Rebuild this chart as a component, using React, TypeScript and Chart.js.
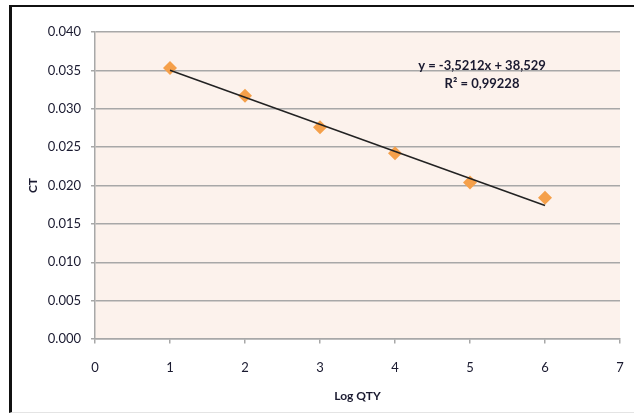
import { useEffect, useRef } from 'react';
import { Chart, registerables } from 'chart.js';

Chart.register(...registerables);

// ---- Data ----
const logQty = [1, 2, 3, 4, 5, 6];
const ctValues = [0.0353, 0.0317, 0.0276, 0.0242, 0.0204, 0.0184];
const trendSlope = -0.0035212;
const trendIntercept = 0.038529;
const trendXRange = [1, 6];
const xAxisRange = [0, 7];
const yAxisRange = [0, 0.04];
const yStep = 0.005;
const equationLabel = 'y = -3,5212x + 38,529';
const r2Label = 'R² = 0,99228';
const xTitle = 'Log QTY';
const yTitle = 'CT';

const FONT = 'Lato, "Liberation Sans", sans-serif';
const TEXT_COLOR = '#1a1a30';
const GRID_COLOR = '#a8a8a8';
const PLOT_BG = '#fcf2ec';

const bgPlugin = {
  id: 'plotBg',
  beforeDraw(chart: any) {
    const { ctx, chartArea } = chart;
    if (!chartArea) return;
    ctx.save();
    ctx.fillStyle = PLOT_BG;
    ctx.fillRect(chartArea.left, chartArea.top, chartArea.right - chartArea.left, chartArea.bottom - chartArea.top);
    ctx.restore();
  },
};

const eqPlugin = {
  id: 'equation',
  afterDatasetsDraw(chart: any) {
    const { ctx, scales } = chart;
    const x = scales.x.getPixelForValue(5.16);
    const y1 = scales.y.getPixelForValue(0.0356);
    const y2 = scales.y.getPixelForValue(0.0333);
    ctx.save();
    ctx.fillStyle = TEXT_COLOR;
    ctx.font = `bold 13px ${FONT}`;
    ctx.textAlign = 'center';
    ctx.textBaseline = 'middle';
    ctx.fillText(equationLabel, x, y1);
    ctx.fillText(r2Label, x, y2);
    ctx.restore();
  },
};

export default function App() {
  const ref = useRef<HTMLCanvasElement>(null);

  useEffect(() => {
    if (!ref.current) return;
    const points = logQty.map((x, i) => ({ x, y: ctValues[i] }));
    const trend = trendXRange.map((x) => ({ x, y: trendSlope * x + trendIntercept }));
    const chart = new Chart(ref.current, {
      type: 'scatter',
      data: {
        datasets: [
          {
            label: 'Trend',
            data: trend,
            showLine: true,
            borderColor: '#222222',
            borderWidth: 1.5,
            pointRadius: 0,
            order: 0,
          } as any,
          {
            label: 'CT',
            data: points,
            pointStyle: 'rectRot',
            pointRadius: 7,
            pointBackgroundColor: '#f5a04a',
            pointBorderWidth: 0,
            pointBorderColor: '#f5a04a',
            order: 1,
          } as any,
        ],
      },
      options: {
        responsive: false,
        animation: false,
        devicePixelRatio: 1,
        layout: { padding: { left: 10, right: 14, top: 32, bottom: 10 } },
        plugins: { legend: { display: false }, tooltip: { enabled: false } },
        scales: {
          x: {
            type: 'linear',
            min: xAxisRange[0],
            max: xAxisRange[1],
            afterFit: (s: any) => {
              s.height = 64;
            },
            ticks: {
              stepSize: 1,
              color: TEXT_COLOR,
              font: { family: FONT, size: 13 },
              padding: 0,
            },
            grid: {
              drawOnChartArea: false,
              drawTicks: true,
              tickLength: 21,
              tickBorderDash: [4, 60],
              color: GRID_COLOR,
              lineWidth: 1.5,
            },
            border: { color: GRID_COLOR, width: 1.5 },
            title: {
              display: true,
              text: xTitle,
              color: TEXT_COLOR,
              font: { family: FONT, size: 12, weight: 'bold' },
              padding: { top: 0, bottom: 0 },
            },
          },
          y: {
            type: 'linear',
            min: yAxisRange[0],
            max: yAxisRange[1],
            afterFit: (s: any) => {
              s.width = 85;
            },
            ticks: {
              stepSize: yStep,
              color: TEXT_COLOR,
              font: { family: FONT, size: 13 },
              padding: 10,
              callback: (v: any) => Number(v).toFixed(3),
            },
            grid: { color: GRID_COLOR, lineWidth: 1.5, tickLength: 4 },
            border: { color: GRID_COLOR, width: 1.5 },
            title: {
              display: true,
              text: yTitle,
              color: TEXT_COLOR,
              font: { family: FONT, size: 12, weight: 'bold' },
              padding: { top: 16, bottom: 0 },
            },
          },
        },
      },
      plugins: [bgPlugin, eqPlugin],
    });
    return () => chart.destroy();
  }, []);

  return (
    <div style={{ position: 'fixed', left: 0, top: 0, width: 634, height: 413, background: '#ffffff' }}>
      <div
        style={{
          position: 'absolute',
          left: 9,
          top: 5,
          right: 0,
          bottom: 0,
          borderTop: '2px solid #111',
          borderLeft: '3px solid #111',
          borderBottom: '1px solid #e4e4e4',
        }}
      />
      <canvas
        ref={ref}
        width={634}
        height={413}
        style={{ position: 'absolute', left: 0, top: 0, width: 634, height: 413 }}
      />
    </div>
  );
}
